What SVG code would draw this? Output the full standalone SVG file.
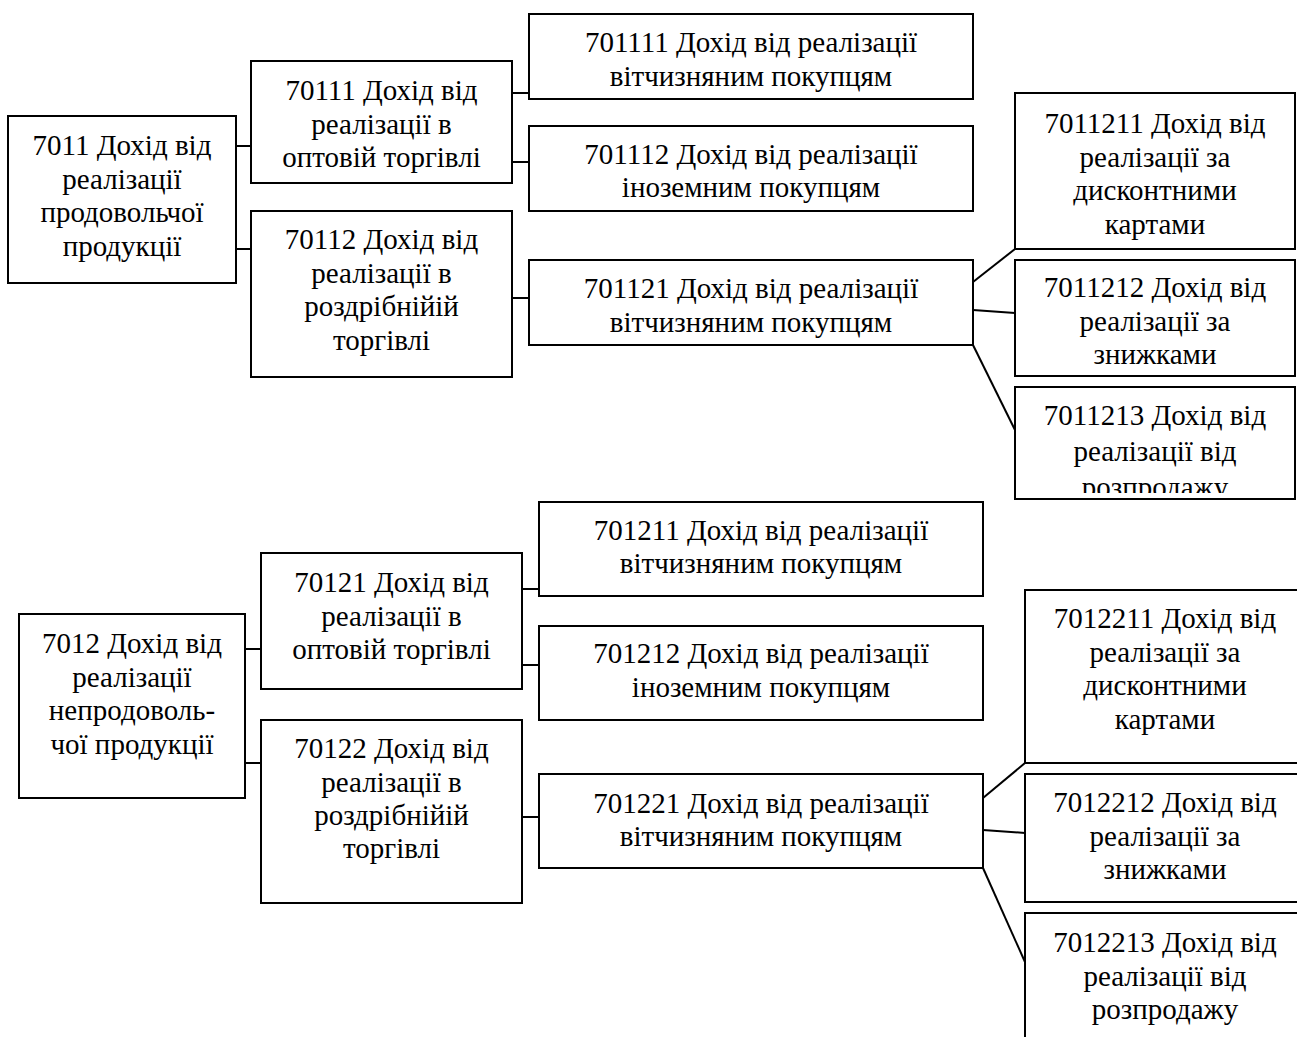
<svg xmlns="http://www.w3.org/2000/svg" width="1297" height="1037" viewBox="0 0 1297 1037">
<style>
.box{fill:#fff;stroke:#000;stroke-width:2}
.t{font-family:"Liberation Serif","Times New Roman",serif;font-size:29px;fill:#000;text-anchor:middle}
.c line{stroke:#000;stroke-width:2}
</style>
<defs>
<clipPath id="clipTop"><rect x="0" y="0" width="1297" height="493"/></clipPath>
</defs>
<rect width="1297" height="1037" fill="#fff"/>
<g id="connectors" class="c">
<line x1="236" y1="146" x2="251" y2="146"/>
<line x1="236" y1="249" x2="251" y2="249"/>
<line x1="512" y1="93" x2="529" y2="93"/>
<line x1="512" y1="162" x2="529" y2="162"/>
<line x1="512" y1="298" x2="529" y2="298"/>
<line x1="973" y1="282" x2="1015" y2="249"/>
<line x1="973" y1="310" x2="1015" y2="313"/>
<line x1="973" y1="345" x2="1015" y2="430"/>
<line x1="245" y1="649" x2="261" y2="649"/>
<line x1="245" y1="763" x2="261" y2="763"/>
<line x1="522" y1="589" x2="539" y2="589"/>
<line x1="522" y1="665" x2="539" y2="665"/>
<line x1="522" y1="817" x2="539" y2="817"/>
<line x1="983" y1="798" x2="1025" y2="763"/>
<line x1="983" y1="830" x2="1025" y2="833"/>
<line x1="983" y1="868" x2="1025" y2="962"/>
</g>
<g id="n7011"><rect class="box" x="8" y="116" width="228" height="167"/>
<text class="t" x="122" y="155">7011 Дохід від</text><text class="t" x="122" y="188.5">реалізації</text><text class="t" x="122" y="222">продовольчої</text><text class="t" x="122" y="255.5">продукції</text></g>
<g id="n70111"><rect class="box" x="251" y="61" width="261" height="122"/>
<text class="t" x="381.5" y="100">70111 Дохід від</text><text class="t" x="381.5" y="133.5">реалізації в</text><text class="t" x="381.5" y="167">оптовій торгівлі</text></g>
<g id="n70112"><rect class="box" x="251" y="211" width="261" height="166"/>
<text class="t" x="381.5" y="249">70112 Дохід від</text><text class="t" x="381.5" y="283">реалізації в</text><text class="t" x="381.5" y="316">роздрібнійій</text><text class="t" x="381.5" y="350">торгівлі</text></g>
<g id="n701111"><rect class="box" x="529" y="14" width="444" height="85"/>
<text class="t" x="751" y="52">701111 Дохід від реалізації</text><text class="t" x="751" y="85.5">вітчизняним покупцям</text></g>
<g id="n701112"><rect class="box" x="529" y="126" width="444" height="85"/>
<text class="t" x="751" y="164">701112 Дохід від реалізації</text><text class="t" x="751" y="197">іноземним покупцям</text></g>
<g id="n701121"><rect class="box" x="529" y="260" width="444" height="85"/>
<text class="t" x="751" y="298">701121 Дохід від реалізації</text><text class="t" x="751" y="332">вітчизняним покупцям</text></g>
<g id="n7011211"><rect class="box" x="1015" y="93" width="280" height="156"/>
<text class="t" x="1155" y="133">7011211 Дохід від</text><text class="t" x="1155" y="167">реалізації за</text><text class="t" x="1155" y="200">дисконтними</text><text class="t" x="1155" y="234">картами</text></g>
<g id="n7011212"><rect class="box" x="1015" y="260" width="280" height="116"/>
<text class="t" x="1155" y="297">7011212 Дохід від</text><text class="t" x="1155" y="331">реалізації за</text><text class="t" x="1155" y="364">знижками</text></g>
<g id="n7011213"><rect class="box" x="1015" y="387" width="280" height="112"/>
<g clip-path="url(#clipTop)"><text class="t" x="1155" y="425">7011213 Дохід від</text><text class="t" x="1155" y="461">реалізації від</text><text class="t" x="1155" y="497">розпродажу</text></g></g>
<g id="n7012"><rect class="box" x="19" y="614" width="226" height="184"/>
<text class="t" x="132" y="653">7012 Дохід від</text><text class="t" x="132" y="687">реалізації</text><text class="t" x="132" y="720">непродоволь-</text><text class="t" x="132" y="754">чої продукції</text></g>
<g id="n70121"><rect class="box" x="261" y="553" width="261" height="136"/>
<text class="t" x="391.5" y="592">70121 Дохід від</text><text class="t" x="391.5" y="625.5">реалізації в</text><text class="t" x="391.5" y="659">оптовій торгівлі</text></g>
<g id="n70122"><rect class="box" x="261" y="720" width="261" height="183"/>
<text class="t" x="391.5" y="758">70122 Дохід від</text><text class="t" x="391.5" y="791.5">реалізації в</text><text class="t" x="391.5" y="825">роздрібнійій</text><text class="t" x="391.5" y="858">торгівлі</text></g>
<g id="n701211"><rect class="box" x="539" y="502" width="444" height="94"/>
<text class="t" x="761" y="540">701211 Дохід від реалізації</text><text class="t" x="761" y="573">вітчизняним покупцям</text></g>
<g id="n701212"><rect class="box" x="539" y="626" width="444" height="94"/>
<text class="t" x="761" y="663">701212 Дохід від реалізації</text><text class="t" x="761" y="697">іноземним покупцям</text></g>
<g id="n701221"><rect class="box" x="539" y="774" width="444" height="94"/>
<text class="t" x="761" y="813">701221 Дохід від реалізації</text><text class="t" x="761" y="846">вітчизняним покупцям</text></g>
<g id="n7012211"><rect class="box" x="1025" y="590" width="290" height="173"/>
<text class="t" x="1165" y="628">7012211 Дохід від</text><text class="t" x="1165" y="662">реалізації за</text><text class="t" x="1165" y="695">дисконтними</text><text class="t" x="1165" y="729">картами</text></g>
<g id="n7012212"><rect class="box" x="1025" y="774" width="290" height="128"/>
<text class="t" x="1165" y="812">7012212 Дохід від</text><text class="t" x="1165" y="846">реалізації за</text><text class="t" x="1165" y="879">знижками</text></g>
<g id="n7012213"><rect class="box" x="1025" y="913" width="290" height="140"/>
<text class="t" x="1165" y="952">7012213 Дохід від</text><text class="t" x="1165" y="986">реалізації від</text><text class="t" x="1165" y="1019">розпродажу</text></g>
</svg>
